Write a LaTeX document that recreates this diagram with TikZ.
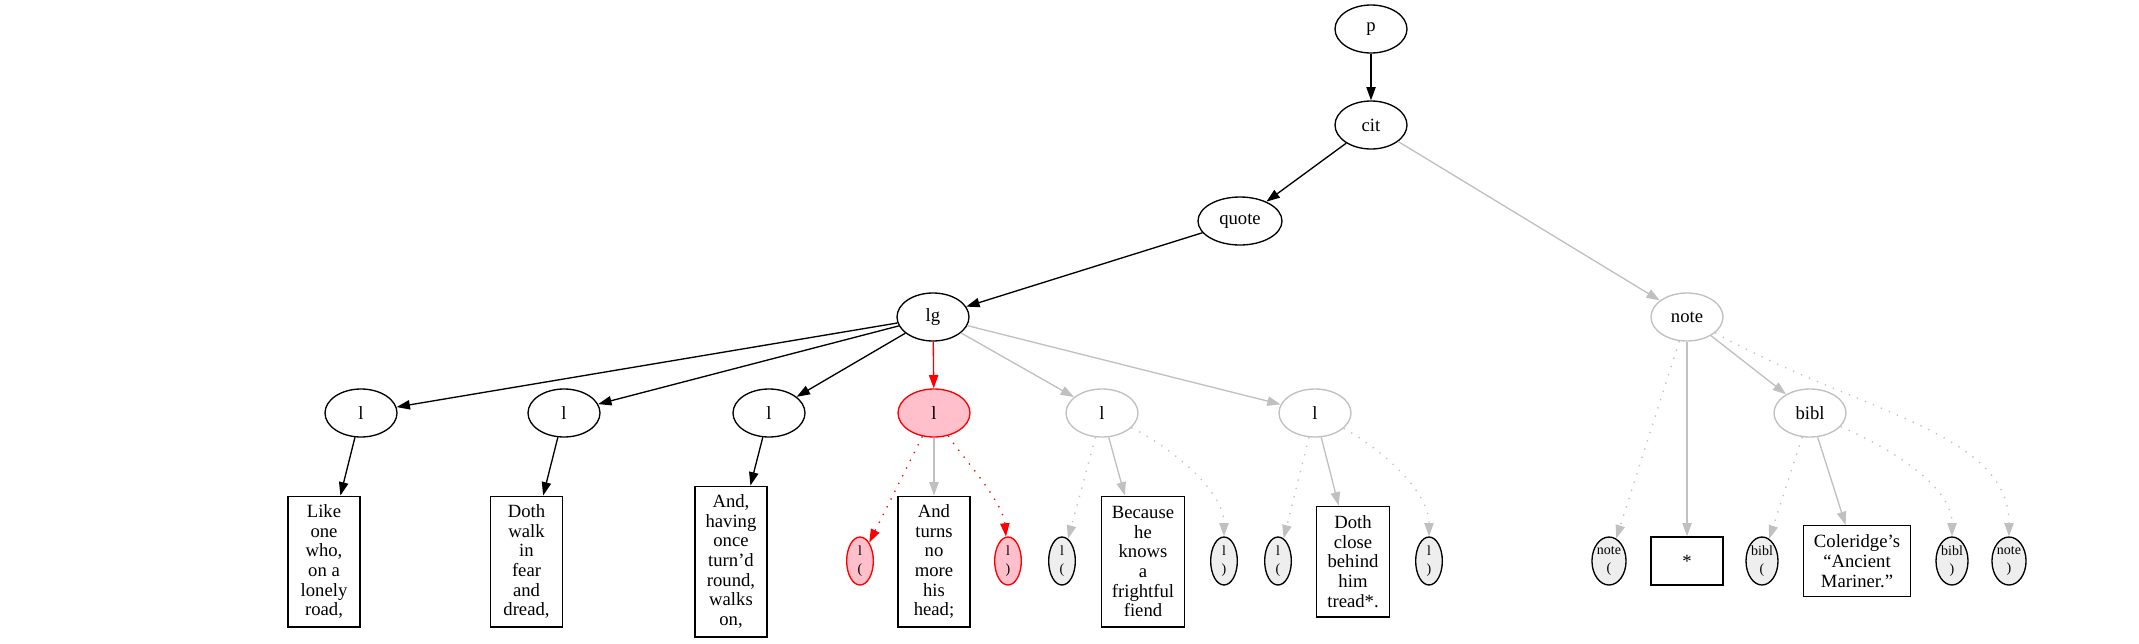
\documentclass[tikz,border=0pt]{standalone}
\usepackage{fontspec}
\setmainfont{Liberation Serif}
\usetikzlibrary{shapes.geometric,arrows.meta}
\definecolor{gvgray}{HTML}{C0C0C0}
\definecolor{gvpink}{HTML}{FFC0CB}
\definecolor{gvred}{HTML}{FF0000}
\definecolor{gvfill}{HTML}{EEEEEE}
\newcommand\gvbigfont{\fontsize{14pt}{14.75pt}\selectfont}
\newcommand\gvsmallfont{\fontsize{10.5pt}{13pt}\selectfont}
\begin{document}
\begin{tikzpicture}[x=0.75pt,y=-0.75pt,
  every node/.style={font=\gvbigfont},
  gvnode/.style={ellipse, draw, line width=1pt, minimum width=54pt, minimum height=36pt, inner sep=1pt, fill=white},
  blacknode/.style={gvnode, draw=black},
  graynode/.style={gvnode, draw=gvgray},
  rednode/.style={gvnode, draw=gvred, fill=gvpink},
  textbox/.style={rectangle, draw=black, line width=1pt, minimum width=54pt, inner xsep=8pt, inner ysep=4pt, align=center, fill=white},
  mknode/.style={ellipse, draw=black, fill=gvfill, line width=1pt, minimum height=36pt, inner sep=0pt, align=center, font=\gvsmallfont},
  redmk/.style={mknode, draw=gvred, fill=gvpink},
  gvedge/.style={line width=1pt, -{Triangle[length=10pt,width=7pt]}},
  blackedge/.style={gvedge, draw=black},
  grayedge/.style={gvedge, draw=gvgray},
  rededge/.style={gvedge, draw=gvred},
  dotedge/.style={dash pattern=on 1pt off 5.5pt},
]
\useasboundingbox (0,0) rectangle (2139,643);

% upper nodes
\node[blacknode] (p) at (1371,29) {p};
\node[blacknode] (cit) at (1371,125) {cit};
\node[blacknode, minimum width=63pt] (quote) at (1240,221) {quote};
\node[blacknode] (lg) at (933,317) {lg};
\node[graynode] (note) at (1687,317) {note};

% l row
\node[blacknode] (l1) at (361,413) {l};
\node[blacknode] (l2) at (564,413) {l};
\node[blacknode] (l3) at (769,413) {l};
\node[rednode] (l4) at (934,413) {l};
\node[graynode] (l5) at (1102,413) {l};
\node[graynode] (l6) at (1315,413) {l};
\node[graynode] (bibl) at (1810,413) {bibl};

% text boxes
\node[textbox, minimum height=98pt] (b1) at (324,561.5) {Like\\one\\who,\\on a\\lonely\\road,};
\node[textbox, minimum height=98pt] (b2) at (526.5,561.5) {Doth\\walk\\in\\fear\\and\\dread,};
\node[textbox, minimum height=113pt] (b3) at (731,561.5) {And,\\having\\once\\turn’d\\round,\\walks\\on,};
\node[textbox, minimum height=98pt] (b4) at (934,561.5) {And\\turns\\no\\more\\his\\head;};
\node[textbox, minimum height=98pt] (b5) at (1143,561.5) {Because\\he\\knows\\a\\frightful\\fiend};
\node[textbox, minimum height=83pt] (b6) at (1353,561.5) {Doth\\close\\behind\\him\\tread*.};
\node[textbox, minimum height=36pt] (bstar) at (1687,561) {*};
\node[textbox, minimum height=53pt] (bcol) at (1857,561) {Coleridge’s\\“Ancient\\Mariner.”};

% markers
\node[redmk, minimum width=20pt] (l4o) at (860,561) {l\\(};
\node[redmk, minimum width=20pt] (l4c) at (1008,561) {l\\)};
\node[mknode, minimum width=20pt] (l5o) at (1062,561) {l\\(};
\node[mknode, minimum width=20pt] (l5c) at (1224,561) {l\\)};
\node[mknode, minimum width=20pt] (l6o) at (1278,561) {l\\(};
\node[mknode, minimum width=20pt] (l6c) at (1429,561) {l\\)};
\node[mknode, minimum width=25.5pt] (no) at (1609,561) {note\\(};
\node[mknode, minimum width=24pt] (bo) at (1762,561) {bibl\\(};
\node[mknode, minimum width=24pt] (bc) at (1952,561) {bibl\\)};
\node[mknode, minimum width=25.5pt] (nc) at (2009,561) {note\\)};

% edges
\draw[blackedge] (p) -- (cit);
\draw[blackedge] (cit) -- (quote);
\draw[grayedge] (cit) -- (note);
\draw[blackedge] (quote) -- (lg);
\draw[blackedge] (lg) -- (l1);
\draw[blackedge] (lg) -- (l2);
\draw[blackedge] (lg) -- (l3);
\draw[rededge] (lg) -- (l4);
\draw[grayedge] (lg) -- (l5);
\draw[grayedge] (lg) -- (l6);

\draw[blackedge] (l1) -- (b1);
\draw[blackedge] (l2) -- (b2);
\draw[blackedge] (l3) -- (b3);

\draw[rededge, dotedge] (l4) -- (l4o);
\draw[grayedge] (l4) -- (b4);
\draw[rededge, dotedge] (l4) .. controls +(25,40) and +(-5,-60) .. (l4c);

\draw[grayedge, dotedge] (l5) -- (l5o);
\draw[grayedge] (l5) -- (b5);
\draw[grayedge, dotedge] (l5) .. controls +(70,35) and +(0,-70) .. (l5c);

\draw[grayedge, dotedge] (l6) -- (l6o);
\draw[grayedge] (l6) -- (b6);
\draw[grayedge, dotedge] (l6) .. controls +(65,35) and +(0,-70) .. (l6c);

\draw[grayedge, dotedge] (note) -- (no);
\draw[grayedge] (note) -- (bstar);
\draw[grayedge] (note) -- (bibl);
\draw[grayedge, dotedge] (note) .. controls +(170,95) and +(0,-130) .. (nc);

\draw[grayedge, dotedge] (bibl) -- (bo);
\draw[grayedge] (bibl) -- (bcol);
\draw[grayedge, dotedge] (bibl) .. controls +(95,42) and +(0,-70) .. (bc);
\end{tikzpicture}
\end{document}
